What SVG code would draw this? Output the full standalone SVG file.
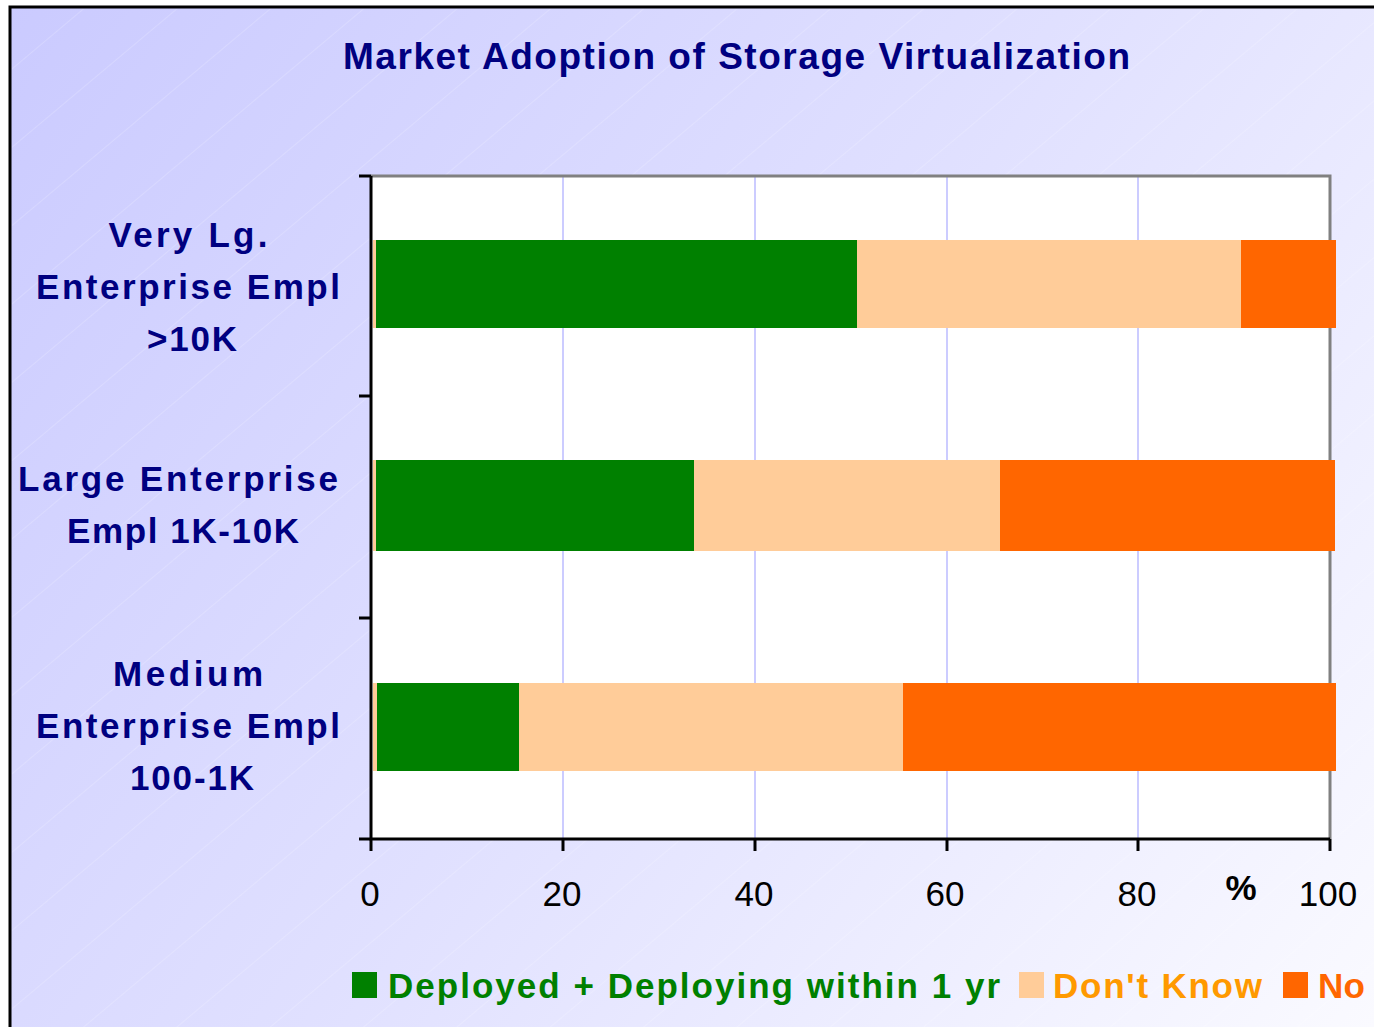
<svg xmlns="http://www.w3.org/2000/svg" width="1374" height="1027" viewBox="0 0 1374 1027">
<defs>
<linearGradient id="bg" x1="0" y1="0" x2="1374" y2="1027" gradientUnits="userSpaceOnUse">
<stop offset="0" stop-color="#CACAFF"/>
<stop offset="0.5" stop-color="#E0E0FF"/>
<stop offset="1" stop-color="#FAFAFF"/>
</linearGradient>
<pattern id="hatch" width="60" height="60" patternUnits="userSpaceOnUse" patternTransform="rotate(-40)">
<line x1="0" y1="0" x2="60" y2="0" stroke="#FFFFFF" stroke-width="1" stroke-opacity="0.35"/>
</pattern>
</defs>
<style>
.cat{font-family:"Liberation Sans",Arial,sans-serif;font-weight:bold;font-size:35px;fill:#000080;text-anchor:middle}
.num{font-family:"Liberation Sans",Arial,sans-serif;font-size:35px;fill:#000000;text-anchor:middle}
.grid{stroke:#CCCCFF;stroke-width:2}
.axis{stroke:#000000;stroke-width:3;fill:none}
.leg{font-family:"Liberation Sans",Arial,sans-serif;font-weight:bold;font-size:35px}
</style>
<rect x="10" y="7" width="1400" height="1100" fill="url(#bg)" stroke="#000000" stroke-width="3"/>
<rect x="12" y="9" width="1400" height="1100" fill="url(#hatch)"/>
<text x="343" y="69" font-family="'Liberation Sans',Arial,sans-serif" font-weight="bold" font-size="37" fill="#000080" textLength="787" lengthAdjust="spacing">Market Adoption of Storage Virtualization</text>
<g id="plot">
<rect x="371" y="176" width="959" height="663" fill="#FFFFFF"/>
<line class="grid" x1="563" y1="176" x2="563" y2="838"/>
<line class="grid" x1="755" y1="176" x2="755" y2="838"/>
<line class="grid" x1="947" y1="176" x2="947" y2="838"/>
<line class="grid" x1="1138" y1="176" x2="1138" y2="838"/>
<polyline points="371,176 1330,176 1330,839" fill="none" stroke="#808080" stroke-width="3"/>
</g>
<g id="bar-very-large">
<rect x="373" y="240" width="4" height="88" fill="#FFCC99"/>
<rect x="376" y="240" width="481" height="88" fill="#008000"/>
<rect x="857" y="240" width="384" height="88" fill="#FFCC99"/>
<rect x="1241" y="240" width="95" height="88" fill="#FF6600"/>
</g>
<g id="bar-large">
<rect x="373" y="460" width="4" height="91" fill="#FFCC99"/>
<rect x="376" y="460" width="318" height="91" fill="#008000"/>
<rect x="694" y="460" width="306" height="91" fill="#FFCC99"/>
<rect x="1000" y="460" width="335" height="91" fill="#FF6600"/>
</g>
<g id="bar-medium">
<rect x="373" y="683" width="4" height="88" fill="#FFCC99"/>
<rect x="377" y="683" width="142" height="88" fill="#008000"/>
<rect x="519" y="683" width="384" height="88" fill="#FFCC99"/>
<rect x="903" y="683" width="433" height="88" fill="#FF6600"/>
</g>
<g id="axes">
<polyline class="axis" points="371,176 371,839 1330,839"/>
<line class="axis" x1="359" y1="176" x2="371" y2="176"/>
<line class="axis" x1="359" y1="396" x2="371" y2="396"/>
<line class="axis" x1="359" y1="618" x2="371" y2="618"/>
<line class="axis" x1="359" y1="839" x2="371" y2="839"/>
<line class="axis" x1="371" y1="839" x2="371" y2="851"/>
<line class="axis" x1="563" y1="839" x2="563" y2="851"/>
<line class="axis" x1="755" y1="839" x2="755" y2="851"/>
<line class="axis" x1="947" y1="839" x2="947" y2="851"/>
<line class="axis" x1="1138" y1="839" x2="1138" y2="851"/>
<line class="axis" x1="1330" y1="839" x2="1330" y2="851"/>
<text class="num" x="370" y="906">0</text>
<text class="num" x="562" y="906">20</text>
<text class="num" x="754" y="906">40</text>
<text class="num" x="945" y="906">60</text>
<text class="num" x="1137" y="906">80</text>
<text class="num" x="1328" y="906">100</text>
<text x="1241" y="900" font-family="'Liberation Sans',Arial,sans-serif" font-weight="bold" font-size="35" fill="#000000" text-anchor="middle">%</text>
</g>
<g id="labels">
<text class="cat" x="188" y="247" textLength="159" lengthAdjust="spacing">Very Lg.</text>
<text class="cat" x="188" y="299" textLength="304" lengthAdjust="spacing">Enterprise Empl</text>
<text class="cat" x="192" y="351" textLength="90" lengthAdjust="spacing">&gt;10K</text>
<text class="cat" x="178" y="491" textLength="320" lengthAdjust="spacing">Large Enterprise</text>
<text class="cat" x="183" y="543" textLength="232" lengthAdjust="spacing">Empl 1K-10K</text>
<text class="cat" x="188" y="686" textLength="150" lengthAdjust="spacing">Medium</text>
<text class="cat" x="188" y="738" textLength="304" lengthAdjust="spacing">Enterprise Empl</text>
<text class="cat" x="192" y="790" textLength="124" lengthAdjust="spacing">100-1K</text>
</g>
<g id="legend">
<rect x="352" y="972" width="25" height="26" fill="#008000"/>
<text class="leg" x="388" y="998" fill="#008000" textLength="612" lengthAdjust="spacing">Deployed + Deploying within 1 yr</text>
<rect x="1019" y="972" width="25" height="26" fill="#FFCC99"/>
<text class="leg" x="1053" y="998" fill="#FF9900" textLength="209" lengthAdjust="spacing">Don't Know</text>
<rect x="1283" y="972" width="25" height="26" fill="#FF6600"/>
<text class="leg" x="1318" y="998" fill="#FF6600" textLength="47" lengthAdjust="spacing">No</text>
</g>
</svg>
